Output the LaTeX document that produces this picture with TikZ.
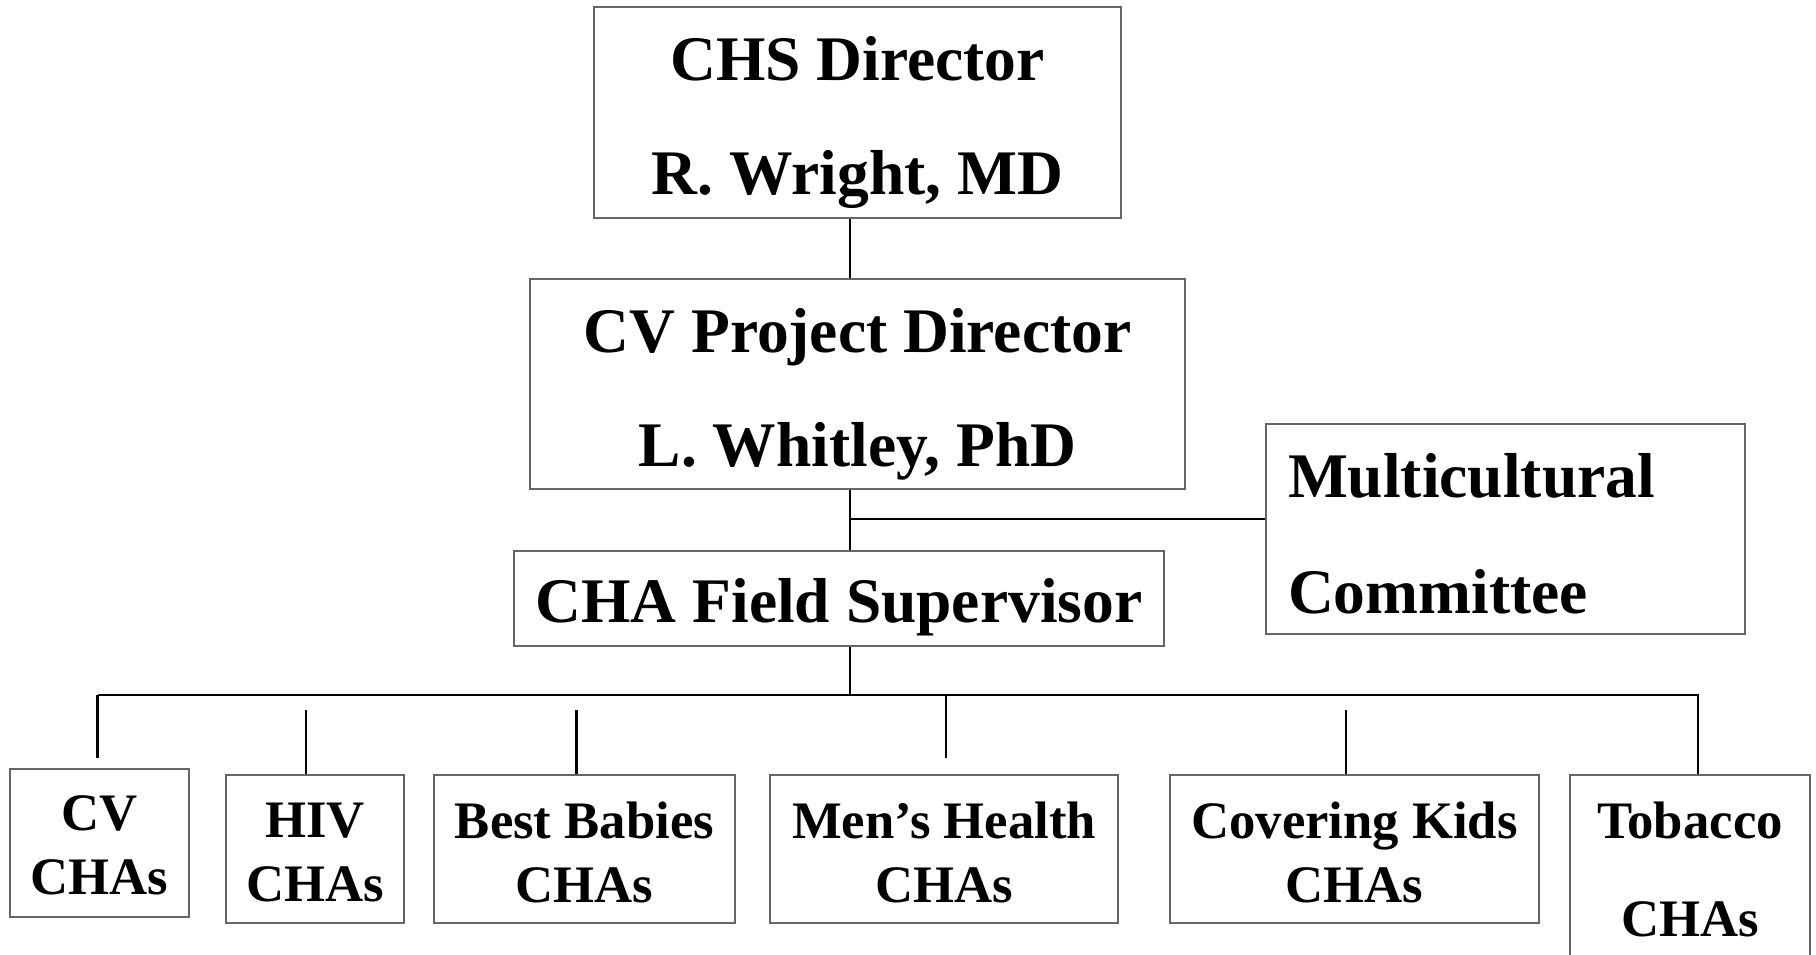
\documentclass[tikz,border=0pt]{standalone}
\usepackage{fontspec}
\setmainfont{Liberation Serif}
\usetikzlibrary{positioning}

\tikzset{
  chartbox/.style={draw=black!60, line width=0.8pt, inner sep=0pt},
  bigtext/.style={inner sep=0pt, align=center,
    font=\bfseries\fontsize{31.75}{57}\selectfont},
  smalltext/.style={bigtext, font=\bfseries\fontsize{26.35}{32}\selectfont},
  link/.style={line width=1.2pt}
}

\begin{document}
\begin{tikzpicture}[x=0.5pt, y=-0.5pt]
    \useasboundingbox (0,0) rectangle (1816,954);
    % upper boxes
    \node[chartbox, minimum width=263.5pt, minimum height=105.5pt] (chs) at (857.5,112.5) {};
    \node[bigtext, yshift=-5.2pt] (chstext) at (chs) {CHS Director\\R. Wright, MD};
    \node[chartbox, minimum width=327.5pt, minimum height=105pt] (cv) at (857.5,384) {};
    \node[bigtext, yshift=-5.2pt] (cvtext) at (cv) {CV Project Director\\L. Whitley, PhD};
    \node[chartbox, minimum width=239.5pt, minimum height=105pt] (multi) at (1505.5,529) {};
    \node[bigtext, align=left, text width=217.5pt, yshift=-2.3pt,
      font=\bfseries\fontsize{31.75}{58}\selectfont] (multitext) at (multi) {Multicultural\\Committee};
    \node[chartbox, minimum width=325pt, minimum height=47.5pt] (cha) at (839,598.5) {};
    \node[bigtext, yshift=-4.6pt] (chatext) at (cha) {CHA Field Supervisor};
    % CHA groups
    \node[chartbox, minimum width=89.5pt, minimum height=74pt] (cvc) at (99.5,843) {};
    \node[smalltext, yshift=-1pt] (cvctext) at (cvc) {CV\\CHAs};
    \node[chartbox, minimum width=89pt, minimum height=74pt] (hiv) at (315,849) {};
    \node[smalltext, yshift=-1.5pt] (hivtext) at (hiv) {HIV\\CHAs};
    \node[chartbox, minimum width=150.5pt, minimum height=74pt] (bb) at (584.5,849) {};
    \node[smalltext, yshift=-1.5pt] (bbtext) at (bb) {Best Babies\\CHAs};
    \node[chartbox, minimum width=174pt, minimum height=74pt] (men) at (944,849) {};
    \node[smalltext, yshift=-1.5pt] (mentext) at (men) {Men’s Health\\CHAs};
    \node[chartbox, minimum width=184.5pt, minimum height=74pt] (ck) at (1354.5,849) {};
    \node[smalltext, yshift=-1.5pt] (cktext) at (ck) {Covering Kids\\CHAs};
    \node[chartbox, minimum width=120pt, minimum height=97.5pt] (tob) at (1690,872.5) {};
    \node[smalltext, yshift=1.7pt,
      font=\bfseries\fontsize{26.35}{49}\selectfont] (tobtext) at (tob) {Tobacco\\CHAs};
    % lines
    \coordinate (spine) at (850,0);
    \coordinate (branch) at (850,519);
    \coordinate (busL) at (98,695);
    \coordinate (busR) at (1698,695);
    \draw[link] (chs.south -| spine) -- (cv.north -| spine);
    \draw[link] (cv.south -| spine) -- (cha.north -| spine);
    \draw[link] (branch) -- (branch -| multi.west);
    \draw[link] (cha.south -| spine) -- (spine |- busL);
    \draw[link] (busL) -- (busR) -- (busR |- tob.north);
    \foreach \n/\d in {cvc/-1,men/1}
      \draw[link] ([xshift=\d pt]\n.north |- busL) -- ++(0,63);
    \foreach \n/\d in {hiv/-4.5,bb/-4,ck/-4.2}
      \draw[link] ([xshift=\d pt]\n.north) -- ++(0,-64);
\end{tikzpicture}
\end{document}
